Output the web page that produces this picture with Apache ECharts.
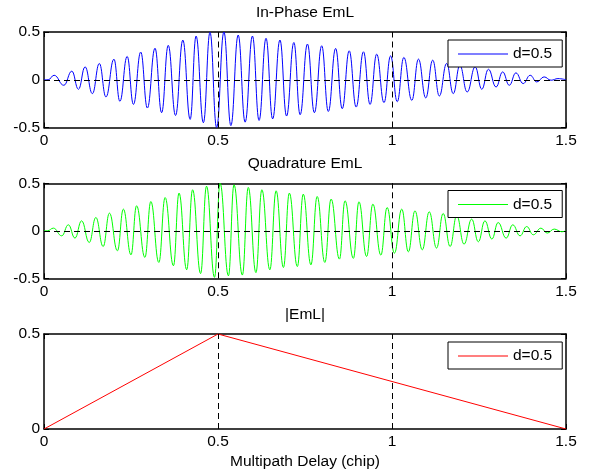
<!DOCTYPE html>
<html>
<head>
<meta charset="utf-8">
<script src="https://cdn.jsdelivr.net/npm/echarts@6/dist/echarts.min.js"></script>
<style>
  html, body { margin: 0; padding: 0; background: #fff; }
  #chart { width: 593px; height: 475px; }
</style>
</head>
<body>
<div id="chart"></div>
<script>
// Multipath error envelope: in-phase, quadrature and magnitude of Early-minus-Late
const legendLabel = 'd=0.5';
const markX = [0.5, 1];

// In-phase EmL: local maxima and minima of the oscillation (delay in chips, amplitude)
const ipPeakX = [0.029, 0.080, 0.118, 0.159, 0.201, 0.239, 0.278, 0.319, 0.357, 0.399, 0.437, 0.477,
  0.517, 0.558, 0.599, 0.638, 0.678, 0.718, 0.757, 0.798, 0.838, 0.877, 0.918, 0.956, 0.996,
  1.034, 1.076, 1.117, 1.157, 1.195, 1.239, 1.277, 1.318, 1.356, 1.397, 1.437, 1.477];
const ipPeakY = [0.047, 0.09, 0.135, 0.17, 0.215, 0.244, 0.29, 0.33, 0.36, 0.415, 0.457, 0.497,
  0.5, 0.468, 0.458, 0.434, 0.416, 0.39, 0.374, 0.356, 0.328, 0.303, 0.293, 0.268, 0.25,
  0.234, 0.216, 0.205, 0.17, 0.15, 0.135, 0.11, 0.082, 0.072, 0.047, 0.03, 0.012];
const ipTroughX = [0.057, 0.099, 0.139, 0.178, 0.218, 0.257, 0.297, 0.338, 0.378, 0.420, 0.458, 0.496,
  0.537, 0.578, 0.618, 0.657, 0.697, 0.736, 0.777, 0.817, 0.857, 0.897, 0.937, 0.977,
  1.015, 1.057, 1.097, 1.136, 1.176, 1.216, 1.258, 1.299, 1.337, 1.377, 1.416, 1.457];
const ipTroughY = [-0.058, -0.10, -0.145, -0.18, -0.226, -0.258, -0.296, -0.345, -0.374, -0.415, -0.45, -0.5,
  -0.48, -0.444, -0.426, -0.41, -0.38, -0.366, -0.345, -0.332, -0.303, -0.286, -0.258, -0.24,
  -0.23, -0.216, -0.19, -0.17, -0.145, -0.128, -0.1, -0.076, -0.058, -0.04, -0.023, -0.005];
const ipEdgeX = [0, 0.012, 1.5];
const ipEdgeY = [0, 0, 0];

// Quadrature EmL: local maxima and minima
const qPeakX = [0.027, 0.070, 0.108, 0.149, 0.188, 0.228, 0.266, 0.307, 0.348, 0.388, 0.427, 0.467,
  0.506, 0.546, 0.587, 0.626, 0.667, 0.705, 0.745, 0.785, 0.825, 0.865, 0.905, 0.945, 0.986,
  1.028, 1.066, 1.107, 1.147, 1.186, 1.229, 1.267, 1.305, 1.347, 1.387, 1.428, 1.466];
const qPeakY = [0.028, 0.063, 0.105, 0.14, 0.186, 0.228, 0.263, 0.308, 0.35, 0.397, 0.432, 0.47,
  0.5, 0.484, 0.456, 0.432, 0.421, 0.397, 0.386, 0.361, 0.334, 0.316, 0.305, 0.281, 0.245,
  0.228, 0.21, 0.2, 0.182, 0.16, 0.123, 0.105, 0.087, 0.063, 0.045, 0.028, 0.018];
const qTroughX = [0.051, 0.089, 0.130, 0.170, 0.211, 0.250, 0.290, 0.330, 0.372, 0.410, 0.450, 0.490,
  0.530, 0.570, 0.609, 0.649, 0.688, 0.728, 0.767, 0.807, 0.849, 0.889, 0.927, 0.968,
  1.007, 1.047, 1.087, 1.128, 1.167, 1.207, 1.248, 1.287, 1.328, 1.368, 1.406, 1.446, 1.488];
const qTroughY = [-0.053, -0.077, -0.123, -0.165, -0.21, -0.253, -0.28, -0.333, -0.368, -0.41, -0.45, -0.49,
  -0.474, -0.466, -0.44, -0.41, -0.386, -0.376, -0.358, -0.333, -0.298, -0.29, -0.27, -0.256,
  -0.235, -0.221, -0.2, -0.182, -0.165, -0.14, -0.116, -0.087, -0.077, -0.053, -0.042, -0.024, -0.01];
const qEdgeX = [0, 0.010, 1.5];
const qEdgeY = [0, 0, 0];

// |EmL|: magnitude envelope
const absX = [0, 0.5, 1.5];
const absY = [0, 0.5, 0];

function mergePoints(groups) {
  const pts = [];
  groups.forEach(([xs, ys]) => xs.forEach((x, i) => pts.push([x, ys[i]])));
  return pts.sort((a, b) => a[0] - b[0]);
}

const ipData = mergePoints([[ipPeakX, ipPeakY], [ipTroughX, ipTroughY], [ipEdgeX, ipEdgeY]]);
const qData = mergePoints([[qPeakX, qPeakY], [qTroughX, qTroughY], [qEdgeX, qEdgeY]]);
const absData = mergePoints([[absX, absY]]);

const FONT = 'Liberation Sans, Arial, Helvetica, sans-serif';
const FS = 15.5;
const grids = [
  { left: 44, right: 27, top: 32, height: 95.5 },
  { left: 44, right: 27, top: 183.3, height: 95 },
  { left: 44, right: 27, top: 334, height: 95 }
];
const yRanges = [[-0.5, 0.5], [-0.5, 0.5], [0, 0.5]];
const titles = ['In-Phase EmL', 'Quadrature EmL', '|EmL|'];
const colors = ['#0000ff', '#00ff00', '#ff0000'];
const seriesNames = ['In-Phase EmL', 'Quadrature EmL', '|EmL|'];
const datasets = [ipData, qData, absData];
const legendTops = [40, 190.5, 342];

const axisLineStyle = { show: true, onZero: false, lineStyle: { color: '#000', width: 1.5 } };
const tickStyle = { show: true, inside: true, length: 5, lineStyle: { color: '#000', width: 1 } };
const labelStyle = { color: '#000', fontFamily: FONT, fontSize: FS };

const xAxes = [], yAxes = [], series = [], title = [], legend = [];
grids.forEach((g, i) => {
  xAxes.push({
    type: 'value', gridIndex: i, min: 0, max: 1.5, interval: 0.5, position: 'bottom',
    axisLine: axisLineStyle, axisTick: tickStyle, splitLine: { show: false },
    axisLabel: Object.assign({ margin: 5 }, labelStyle),
    name: i === 2 ? 'Multipath Delay (chip)' : '',
    nameLocation: 'middle', nameGap: 25,
    nameTextStyle: { color: '#000', fontFamily: FONT, fontSize: FS }
  });
  xAxes.push({
    type: 'value', gridIndex: i, min: 0, max: 1.5, interval: 0.5, position: 'top',
    axisLine: axisLineStyle, axisTick: tickStyle, splitLine: { show: false },
    axisLabel: { show: false }
  });
  yAxes.push({
    type: 'value', gridIndex: i, min: yRanges[i][0], max: yRanges[i][1], interval: 0.5, position: 'left',
    axisLine: axisLineStyle, axisTick: tickStyle, splitLine: { show: false },
    axisLabel: Object.assign({ margin: 4 }, labelStyle)
  });
  yAxes.push({
    type: 'value', gridIndex: i, min: yRanges[i][0], max: yRanges[i][1], interval: 0.5, position: 'right',
    axisLine: axisLineStyle, axisTick: tickStyle, splitLine: { show: false },
    axisLabel: { show: false }
  });

  const marks = markX.map(x => ({ xAxis: x }));
  if (i < 2) marks.push({ yAxis: 0 });

  series.push({
    name: seriesNames[i], type: 'line', xAxisIndex: i * 2, yAxisIndex: i * 2,
    data: datasets[i], showSymbol: false, symbol: 'none',
    smooth: i < 2 ? 0.45 : false, smoothMonotone: 'x',
    lineStyle: { color: colors[i], width: 1 }, itemStyle: { color: colors[i] },
    animation: false,
    markLine: {
      silent: true, symbol: ['none', 'none'], label: { show: false }, animation: false,
      lineStyle: { color: '#000', width: 1, type: [6, 4] },
      emphasis: { disabled: true },
      data: marks
    }
  });

  title.push({
    text: titles[i], left: 305, top: g.top - 27.5, textAlign: 'center', padding: 0,
    textStyle: { color: '#000', fontFamily: FONT, fontSize: FS, lineHeight: 16, fontWeight: 'normal' }
  });

  legend.push({
    data: [seriesNames[i]], left: 448, top: legendTops[i],
    formatter: () => legendLabel,
    icon: 'rect', itemWidth: 50, itemHeight: 1,
    padding: [6, 10, 5, 10],
    backgroundColor: '#fff', borderColor: '#000', borderWidth: 1, borderRadius: 0,
    selectedMode: false,
    textStyle: { color: '#000', fontFamily: FONT, fontSize: FS }
  });
});

const chart = echarts.init(document.getElementById('chart'), null, { renderer: 'canvas' });
chart.setOption({
  backgroundColor: '#fff',
  animation: false,
  title: title,
  legend: legend,
  grid: grids,
  xAxis: xAxes,
  yAxis: yAxes,
  series: series
});
</script>
</body>
</html>
